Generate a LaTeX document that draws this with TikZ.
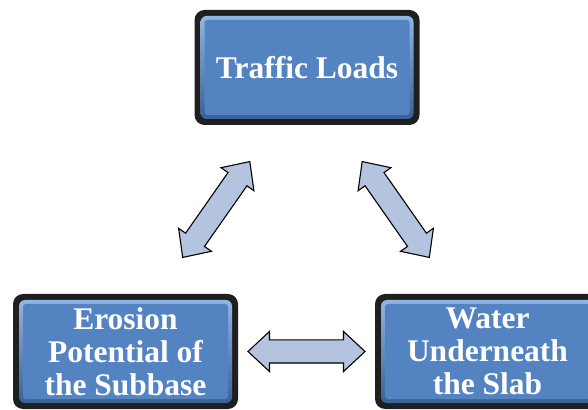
\documentclass[tikz,border=0pt]{standalone}
\usepackage{fontspec}
\setmainfont{Liberation Serif}
\usepackage{tikz}
\usetikzlibrary{shapes.arrows,calc}
\definecolor{face}{RGB}{84,131,193}
\definecolor{facelight}{RGB}{150,186,232}
\definecolor{facedark}{RGB}{52,92,145}
\definecolor{arrowfill}{RGB}{180,196,222}

\begin{document}
\begin{tikzpicture}[
  x=1pt, y=1pt,
  box/.style={rounded corners=10pt, fill=black!88, minimum width=225pt,
    minimum height=115pt, inner sep=0pt, text=white, align=center,
    font=\bfseries\fontsize{31.5}{33}\selectfont,
    path picture={
      \shade[rounded corners=6pt, top color=facelight, bottom color=facedark]
        ([shift={(6pt,6pt)}]path picture bounding box.south west) rectangle
        ([shift={(-6pt,-6pt)}]path picture bounding box.north east);
      \fill[face, rounded corners=3pt]
        ([shift={(10pt,10pt)}]path picture bounding box.south west) rectangle
        ([shift={(-10pt,-10pt)}]path picture bounding box.north east);
    }},
  arr/.style={double arrow, draw=black, line width=1.1pt, fill=arrowfill,
    minimum height=117pt, inner sep=11pt,
    double arrow head extend=8.5pt, double arrow tip angle=86}
]
  \useasboundingbox (0,0) rectangle (588,409);
  \clip (0,0) rectangle (588,409);
  \node[box] (traffic) at (307,341.5) {Traffic Loads};
  \node[box] (erosion) at (125.5,57.5) {Erosion\\Potential of\\the Subbase};
  \node[box] (water) at (487.5,57.5) {Water\\Underneath\\the Slab};
  \node[arr, rotate=55] (left) at ($(erosion)!0.5!(traffic)$) {};
  \node[arr, rotate=-55] (right) at ($(traffic)!0.5!(water)+(-1.5,0)$) {};
  \node[arr] (bottom) at ($(erosion)!0.5!(water)$) {};
\end{tikzpicture}
\end{document}
